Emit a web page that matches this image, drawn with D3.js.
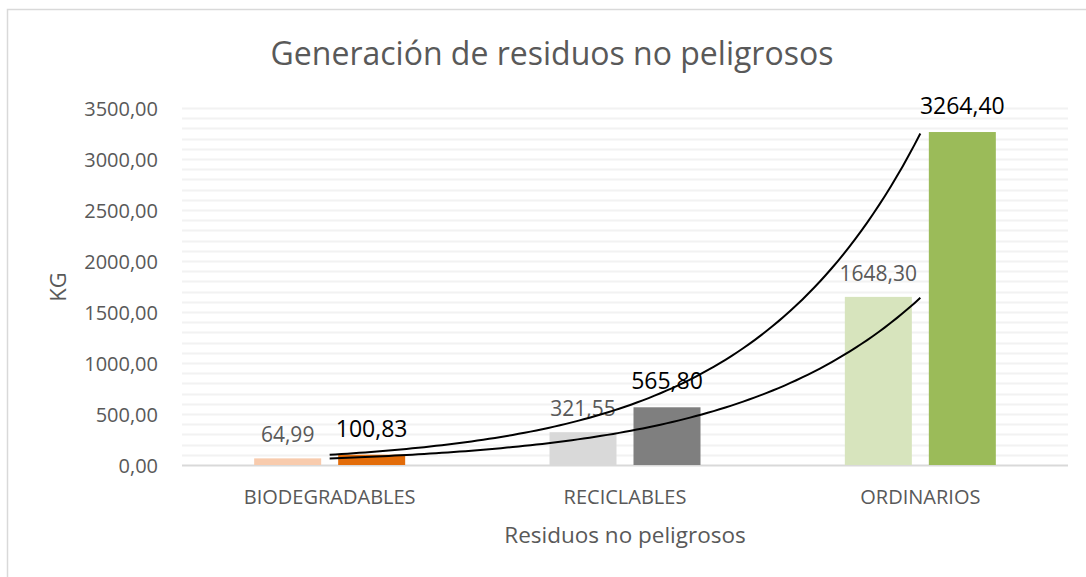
<!DOCTYPE html>
<html><head><meta charset="utf-8">
<script src="https://cdn.jsdelivr.net/npm/d3@7"></script>
<style>body{margin:0;background:#fff;} text{font-family:"Open Sans",sans-serif;}</style>
</head><body>
<svg id="c" width="1086" height="577"></svg>
<script>
const title = "Generación de residuos no peligrosos";
const categories = ["BIODEGRADABLES", "RECICLABLES", "ORDINARIOS"];
const seriesLight = [64.99, 321.55, 1648.30];
const seriesDark = [100.83, 565.80, 3264.40];
const lightColors = ["#f8cbad", "#d9d9d9", "#d7e4bd"];
const darkColors = ["#e36c09", "#7f7f7f", "#9bbb59"];
const yTicks = [0, 500, 1000, 1500, 2000, 2500, 3000, 3500];
const yTitle = "KG";
const xTitle = "Residuos no peligrosos";

const svg = d3.select("#c");
const L = 182, R = 1068, T = 108, B = 465;
const fmt = v => d3.format(".2f")(v).replace(".", ",");

svg.append("rect").attr("x", 7.5).attr("y", 9.5).attr("width", 1100).attr("height", 600)
  .attr("fill", "#fff").attr("stroke", "#d9d9d9").attr("stroke-width", 1.5);

const y = d3.scaleLinear().domain([0, 3500]).range([B, T]);
const x = d3.scaleBand().domain(categories).range([L, R]).paddingInner(0).paddingOuter(0);
const bw = 67, gap = 17;

// minor gridlines
svg.append("g").selectAll("line").data(d3.range(100, 3501, 100)).join("line")
  .attr("x1", L).attr("x2", R).attr("y1", d => Math.round(y(d)) + 0.5).attr("y2", d => Math.round(y(d)) + 0.5)
  .attr("stroke", "#f2f2f2").attr("stroke-width", 2);

// y axis labels
const yAxis = d3.axisLeft(y).tickValues(yTicks).tickFormat(fmt).tickSize(0).tickPadding(0);
const ga = svg.append("g").attr("transform", `translate(158,0)`).call(yAxis);
ga.select(".domain").remove();
ga.selectAll("text").attr("font-size", 20).attr("fill", "#595959").attr("font-family", "Open Sans").attr("dy", "0.35em");

// baseline
svg.append("line").attr("x1", L).attr("x2", R).attr("y1", B + 0.5).attr("y2", B + 0.5)
  .attr("stroke", "#d9d9d9").attr("stroke-width", 2);

const cx = c => x(c) + x.bandwidth() / 2;
// bars
svg.append("g").selectAll("rect").data(categories).join("rect")
  .attr("x", c => cx(c) - gap / 2 - bw).attr("width", bw)
  .attr("y", (c, i) => y(seriesLight[i])).attr("height", (c, i) => B - y(seriesLight[i]))
  .attr("fill", (c, i) => lightColors[i]);
svg.append("g").selectAll("rect").data(categories).join("rect")
  .attr("x", c => cx(c) + gap / 2).attr("width", bw)
  .attr("y", (c, i) => y(seriesDark[i])).attr("height", (c, i) => B - y(seriesDark[i]))
  .attr("fill", (c, i) => darkColors[i]);

// data labels
svg.append("g").selectAll("text").data(categories).join("text")
  .attr("x", c => cx(c) - gap / 2 - bw / 2).attr("y", (c, i) => y(seriesLight[i]) - 16)
  .attr("text-anchor", "middle").attr("font-size", 21).attr("fill", "#595959")
  .text((c, i) => fmt(seriesLight[i]));
svg.append("g").selectAll("text").data(categories).join("text")
  .attr("x", c => cx(c) + gap / 2 + bw / 2).attr("y", (c, i) => y(seriesDark[i]) - 18)
  .attr("text-anchor", "middle").attr("font-size", 23).attr("fill", "#000")
  .text((c, i) => fmt(seriesDark[i]));

// exponential trendlines (least squares on ln values, as Excel does)
function expFit(vals) {
  const xs = vals.map((v, i) => i), ls = vals.map(Math.log);
  const mx = d3.mean(xs), ml = d3.mean(ls);
  const b = d3.sum(xs.map((xi, i) => (xi - mx) * (ls[i] - ml))) / d3.sum(xs.map(xi => (xi - mx) ** 2));
  const a = Math.exp(ml - b * mx);
  return t => a * Math.exp(b * t);
}
const tx = d3.scaleLinear().domain([0, categories.length - 1]).range([cx(categories[0]), cx(categories[categories.length - 1])]);
const ts = d3.range(0, 2.0001, 0.02);
[seriesDark, seriesLight].forEach(s => {
  const f = expFit(s);
  svg.append("path").datum(ts)
    .attr("d", d3.line().x(t => tx(t)).y(t => y(f(t))))
    .attr("fill", "none").attr("stroke", "#000").attr("stroke-width", 2);
});

// category labels
svg.append("g").selectAll("text").data(categories).join("text")
  .attr("x", c => cx(c)).attr("y", 504).attr("text-anchor", "middle")
  .attr("font-size", 20).attr("fill", "#595959").text(c => c);

// axis titles
svg.append("text").attr("x", 625).attr("y", 543).attr("text-anchor", "middle")
  .attr("font-size", 22.5).attr("fill", "#595959").text(xTitle);
svg.append("text").attr("transform", "translate(66,287) rotate(-90)").attr("text-anchor", "middle")
  .attr("font-size", 22).attr("fill", "#595959").text(yTitle);

// title
svg.append("text").attr("x", 552).attr("y", 65).attr("text-anchor", "middle")
  .attr("font-size", 32).attr("fill", "#595959").text(title);
</script>
</body></html>
